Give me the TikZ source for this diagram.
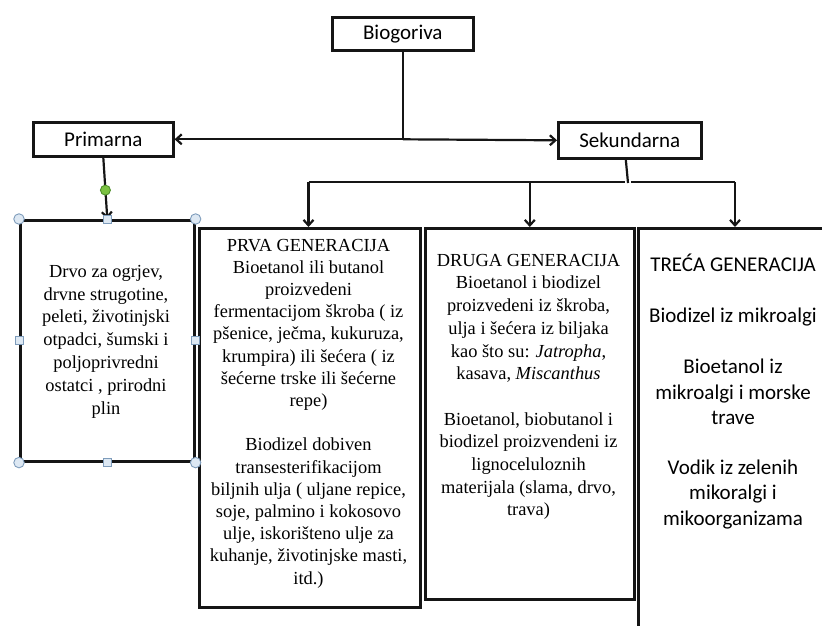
\documentclass[tikz,border=0pt]{standalone}
\usepackage{fontspec}
\setmainfont{Liberation Serif}
\newfontfamily\calibrifont{Carlito}
\usetikzlibrary{arrows.meta}
\definecolor{handlefill}{HTML}{DDE8F3}
\definecolor{handledraw}{HTML}{7E9CBB}
\definecolor{greenfill}{HTML}{7CC242}
\definecolor{greendraw}{HTML}{4E8F2A}
\definecolor{inkc}{HTML}{151515}
\begin{document}
\begin{tikzpicture}[x=1pt,y=-1pt,
  box/.style={draw=inkc, line width=2.6pt, rectangle, inner sep=0pt, anchor=north west},
  lbl/.style={font=\calibrifont\fontsize{21}{25}\selectfont},
  sertxt/.style={font=\fontsize{18.4}{22.2}\selectfont, align=center, inner sep=0pt},
  conn/.style={line width=2.2pt, draw=inkc},
  arr/.style={conn, -{Straight Barb[length=5.5pt,width=10pt]}},
  circhandle/.style={circle, fill=handlefill, draw=handledraw, line width=0.9pt, minimum size=10.5pt, inner sep=0pt},
  sqhandle/.style={rectangle, fill=handlefill, draw=handledraw, line width=0.9pt, minimum size=8pt, inner sep=0pt},
  gdot/.style={circle, fill=greenfill, draw=greendraw, line width=0.9pt, minimum size=10pt, inner sep=0pt}
]
\useasboundingbox (0,0) rectangle (822,626);
\clip (0,0) rectangle (822,626);

% top level
\node[box, minimum width=141pt, minimum height=33pt, lbl] (bio) at (331,16) {Biogoriva};
\node[box, minimum width=140pt, minimum height=34pt, lbl] (prim) at (32,121) {Primarna};
\node[box, minimum width=143pt, minimum height=36pt, lbl] (sek) at (557,121) {Sekundarna};

% boxes
\node[box, minimum width=174pt, minimum height=241pt] (leftbox) at (19,219) {};
\node[box, minimum width=221pt, minimum height=379pt] (prva) at (198,227) {};
\node[box, minimum width=209pt, minimum height=371pt] (druga) at (424,227) {};
\node[box, minimum width=200pt, minimum height=430pt] (treca) at (637,227) {};

% texts
\node[sertxt, font=\fontsize{18.4}{22.8}\selectfont] (leftT) at (106,341.5) {Drvo za ogrjev,\\ drvne strugotine,\\ peleti, životinjski\\ otpadci, šumski i\\ poljoprivredni\\ ostatci , prirodni\\ plin};

\node[sertxt] (prvaT) at (308.5,413.5) {PRVA GENERACIJA\\ Bioetanol ili butanol\\ proizvedeni\\ fermentacijom škroba ( iz\\ pšenice, ječma, kukuruza,\\ krumpira) ili šećera ( iz\\ šećerne trske ili šećerne\\ repe)\\[22.2pt] Biodizel dobiven\\ transesterifikacijom\\ biljnih ulja ( uljane repice,\\ soje, palmino i kokosovo\\ ulje, iskorišteno ulje za\\ kuhanje, životinjske masti,\\ itd.)};

\node[sertxt, font=\fontsize{18.4}{22.7}\selectfont] (drugaT) at (528.5,387) {DRUGA GENERACIJA\\ Bioetanol i biodizel\\ proizvedeni iz škroba,\\ ulja i šećera iz biljaka\\ kao što su: \textit{Jatropha},\\ kasava, \textit{Miscanthus}\\[22.7pt] Bioetanol, biobutanol i\\ biodizel proizvendeni iz\\ lignoceluloznih\\ materijala (slama, drvo,\\ trava)};

\node[align=center, inner sep=0pt, font=\calibrifont\fontsize{21}{25.5}\selectfont] (trecaT) at (733,391.5) {TREĆA GENERACIJA\\[25pt] Biodizel iz mikroalgi\\[26pt] Bioetanol iz\\ mikroalgi i morske\\ trave\\[24pt] Vodik iz zelenih\\ mikoralgi i\\ mikoorganizama};

% connectors top
\coordinate (mid) at (bio.south |- prim.east);
\draw[conn] (bio.south) -- (mid);
\draw[arr] (mid) -- (prim.east);
\draw[arr] (mid) -- (sek.west);

% primarna to left box
\draw[arr] (prim.south) -- node[gdot, pos=0.53] (gd) {} (leftbox.north);

% sekundarna branches
\coordinate (sj) at (628,183);
\coordinate (hl) at (308.5,182);
\coordinate (hr) at (735,182);
\coordinate (gapL) at (625,182);
\coordinate (gapR) at (631,182);
\draw[conn] ([xshift=-4pt]sek.south) -- (sj);
\draw[conn] (hl) -- (gapL);
\draw[conn] (gapR) -- (hr);
\draw[arr] (hl) -- (hl |- prva.north);
\draw[arr] (druga.north |- hl) -- (druga.north);
\draw[arr] (hr) -- (hr |- treca.north);

% selection handles
\node[circhandle] (c1) at (leftbox.north west) {};
\node[circhandle] (c2) at (leftbox.north east) {};
\node[circhandle] (c3) at (leftbox.south west) {};
\node[circhandle] (c4) at (leftbox.south east) {};
\node[sqhandle] (s1) at (leftbox.north) {};
\node[sqhandle] (s2) at (leftbox.south) {};
\node[sqhandle] (s3) at (leftbox.west) {};
\node[sqhandle] (s4) at (leftbox.east) {};
\end{tikzpicture}
\end{document}
